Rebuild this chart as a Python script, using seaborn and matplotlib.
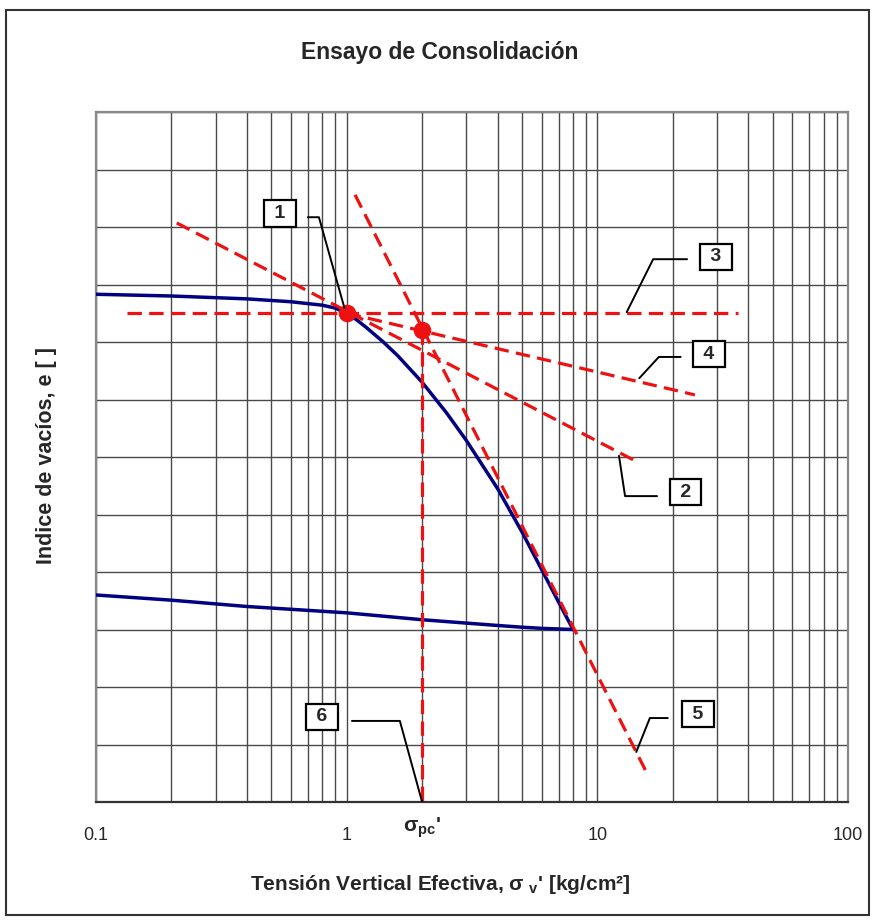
import matplotlib
matplotlib.use("Agg")
import matplotlib.pyplot as plt
from matplotlib.patches import Rectangle
from matplotlib.ticker import LogLocator, NullFormatter, FixedLocator, FixedFormatter
import seaborn as sns
import pandas as pd

# ---------------- data ----------------
load_sigma = [0.1, 0.2, 0.4, 0.6, 0.8, 0.9, 1.0, 1.1, 1.2, 1.4, 1.6, 2.0, 2.5, 3.0, 3.5, 4.0, 5.0, 6.0, 7.0, 8.0]
load_e = [8.83, 8.80, 8.75, 8.70, 8.64, 8.59, 8.50, 8.38, 8.25, 8.00, 7.76, 7.30, 6.77, 6.29, 5.84, 5.45, 4.70, 4.04, 3.48, 3.00]
unload_sigma = [8.0, 6.0, 5.0, 4.0, 2.0, 1.0, 0.4, 0.2, 0.1]
unload_e = [3.00, 3.02, 3.04, 3.07, 3.17, 3.29, 3.40, 3.51, 3.60]

# construction lines (Casagrande method)
line2_sigma = [0.21, 14.5]; line2_e = [10.07, 5.91]     # tangent at max curvature
line3_sigma = [0.133, 36.4]; line3_e = [8.5, 8.5]       # horizontal
line4_sigma = [1.0, 24.5]; line4_e = [8.5, 7.08]        # bisector
line5_sigma = [1.08, 15.9]; line5_e = [10.56, 0.47]     # virgin compression line
line6_sigma = [2.0, 2.0]; line6_e = [8.21, 0.0]         # sigma_pc'
point_sigma = [1.0, 2.0]; point_e = [8.50, 8.21]

x_ticks = [0.1, 1, 10, 100]
x_ticklabels = ["0.1", "1", "10", "100"]

labels = ["1", "2", "3", "4", "5", "6"]
box_sigma = [0.542, 22.5, 29.7, 27.9, 25.2, 0.797]
box_e = [10.24, 5.39, 9.48, 7.79, 1.53, 1.48]
leader_sigma = [[0.700, 0.775, 0.98], [17.3, 12.9, 12.2], [22.8, 16.7, 13.1],
                [21.5, 17.6, 14.7], [19.1, 16.2, 14.3], [1.05, 1.63, 2.0]]
leader_e = [[10.17, 10.17, 8.59], [5.32, 5.32, 6.02], [9.44, 9.44, 8.52],
            [7.74, 7.74, 7.37], [1.46, 1.46, 0.87], [1.41, 1.41, 0.0]]

# ---------------- style ----------------
sns.set_style("white")
plt.rcParams["font.family"] = ["Liberation Sans", "DejaVu Sans"]
plt.rcParams["mathtext.default"] = "regular"

W, H = 876, 923
fig = plt.figure(figsize=(W / 100, H / 100), dpi=100)
fig.patch.set_facecolor("white")
L, R, T, B = 96, 848, 112, 802
ax = fig.add_axes([L / W, 1 - B / H, (R - L) / W, (B - T) / H])

# outer frame
fig.patches.append(Rectangle((6 / W, 1 - 915 / H), (869 - 6) / W, (915 - 10) / H,
                             transform=fig.transFigure, fill=False,
                             edgecolor="#333333", linewidth=1.5, zorder=0))

load_df = pd.DataFrame({"sigma": load_sigma, "e": load_e})
unload_df = pd.DataFrame({"sigma": unload_sigma, "e": unload_e})

navy = "#000080"
red = "#ee1111"
sns.lineplot(data=load_df, x="sigma", y="e", sort=False, estimator=None,
             color=navy, linewidth=2.5, ax=ax, zorder=3)
sns.lineplot(data=unload_df, x="sigma", y="e", sort=False, estimator=None,
             color=navy, linewidth=2.5, ax=ax, zorder=3)

for xs, ys in [(line2_sigma, line2_e), (line3_sigma, line3_e), (line4_sigma, line4_e),
               (line5_sigma, line5_e), (line6_sigma, line6_e)]:
    ax.plot(xs, ys, color=red, linewidth=2.3, linestyle=(0, (4.5, 2.3)), zorder=4,
            solid_capstyle="butt", dash_capstyle="butt")

sns.scatterplot(x=point_sigma, y=point_e, color=red, s=160, edgecolor=red,
                linewidth=0, ax=ax, zorder=5)

# leaders and numbered boxes
for lab, bx, by, ls, le in zip(labels, box_sigma, box_e, leader_sigma, leader_e):
    ax.plot(ls, le, color="black", linewidth=1.4, zorder=6)
    ax.text(bx, by, " " + lab + " ", ha="center", va="center", fontsize=14,
            fontweight="bold", zorder=7,
            bbox=dict(boxstyle="square,pad=0.25", facecolor="white",
                      edgecolor="black", linewidth=1.6))

# axes
ax.set_xscale("log")
ax.set_xlim(0.1, 100)
ax.set_ylim(0, 12)
ax.xaxis.set_major_locator(FixedLocator(x_ticks))
ax.xaxis.set_major_formatter(FixedFormatter(x_ticklabels))
ax.xaxis.set_minor_locator(LogLocator(base=10, subs=range(2, 10)))
ax.xaxis.set_minor_formatter(NullFormatter())
ax.set_yticks(range(13))
ax.set_yticklabels([])
ax.tick_params(axis="y", length=0)
ax.tick_params(axis="x", which="major", direction="out", length=7, width=1.2,
               color="#333333", labelsize=13, pad=11)
ax.tick_params(axis="x", which="minor", length=0)
ax.grid(True, which="major", axis="both", color="#4a4a4a", linewidth=1.0)
ax.grid(True, which="minor", axis="x", color="#4a4a4a", linewidth=1.0)
ax.set_axisbelow(True)
for side in ["left", "top", "right"]:
    ax.spines[side].set_color("#888888")
    ax.spines[side].set_linewidth(1.6)
ax.spines["bottom"].set_color("#333333")
ax.spines["bottom"].set_linewidth(1.6)
ax.set_xlabel("")
ax.set_ylabel("")

# texts
fig.text(440 / W, 1 - 52 / H, "Ensayo de Consolidación", ha="center", va="center",
         fontsize=16.5, fontweight="bold")
fig.text(440 / W, 1 - 884 / H, "Tensión Vertical Efectiva, σ $_{v}$' [kg/cm²]",
         ha="center", va="center", fontsize=15, fontweight="bold")
fig.text(47 / W, 1 - 456 / H, "Indice de vacíos, e [ ]", ha="center", va="center",
         rotation=90, fontsize=15.5, fontweight="bold")
ax.text(line6_sigma[0], -0.45, "σ$_{pc}$'", ha="center", va="center",
        fontsize=15, fontweight="bold", transform=ax.transData)

fig.savefig("out.png", dpi=100, facecolor="white")
